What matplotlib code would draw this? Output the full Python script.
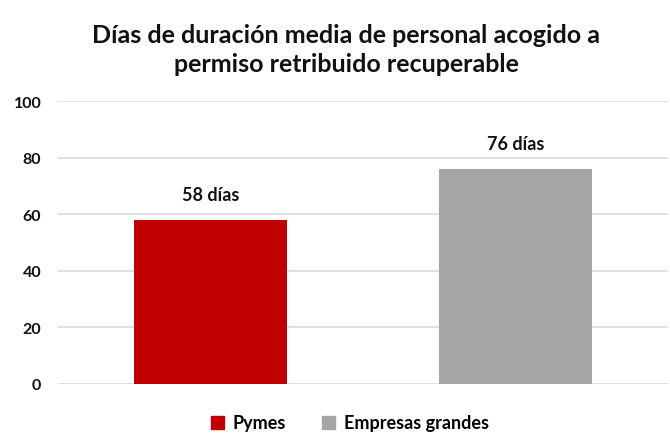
import numpy as np
import matplotlib.pyplot as plt

plt.rcParams['font.family'] = ['Lato', 'DejaVu Sans']

categorias = ['Pymes', 'Empresas grandes']
dias = [58, 76]
etiquetas = ['58 días', '76 días']
colores = ['#C00000', '#A5A5A5']
ticks_y = [0, 20, 40, 60, 80, 100]

fig = plt.figure(figsize=(6.7, 4.35), dpi=100)
ax = fig.add_axes([58/670, 1-385/435, 610/670, 283/435])

x = np.arange(len(categorias))
ax.bar(x, dias, width=0.5, color=colores, zorder=3)

# etiquetas de datos encima de cada barra
for xi, v, t in zip(x, dias, etiquetas):
    ax.annotate(t, (xi, v), xytext=(0, 12), textcoords='offset points',
                ha='center', va='bottom', fontsize=13, fontweight='bold', color='#111111')

ax.set_xlim(-0.5, 1.5)
ax.set_ylim(0, 100)
ax.set_yticks(ticks_y)
ax.set_yticklabels([str(t) for t in ticks_y], fontsize=11.5, fontweight='bold', color='#111111')
ax.set_xticks([])
ax.tick_params(axis='y', length=0, pad=12)
ax.grid(axis='y', color='#D9D9D9', linewidth=1.2, zorder=0)
for s in ax.spines.values():
    s.set_visible(False)

fig.text(346/670, 1-50/435, 'Días de duración media de personal acogido a\npermiso retribuido recuperable',
         ha='center', va='center', fontsize=18, fontweight='bold', color='#111111', linespacing=1.3)

handles = [plt.Rectangle((0, 0), 1, 1, color=c) for c in colores]
fig.legend(handles, categorias, loc='center', bbox_to_anchor=(350/670, 1-424/435), ncol=2,
           frameon=False, prop={'size': 13, 'weight': 'bold'}, handlelength=0.7, handleheight=0.7,
           columnspacing=2.0, handletextpad=0.5)

fig.savefig('out.png', dpi=100)
